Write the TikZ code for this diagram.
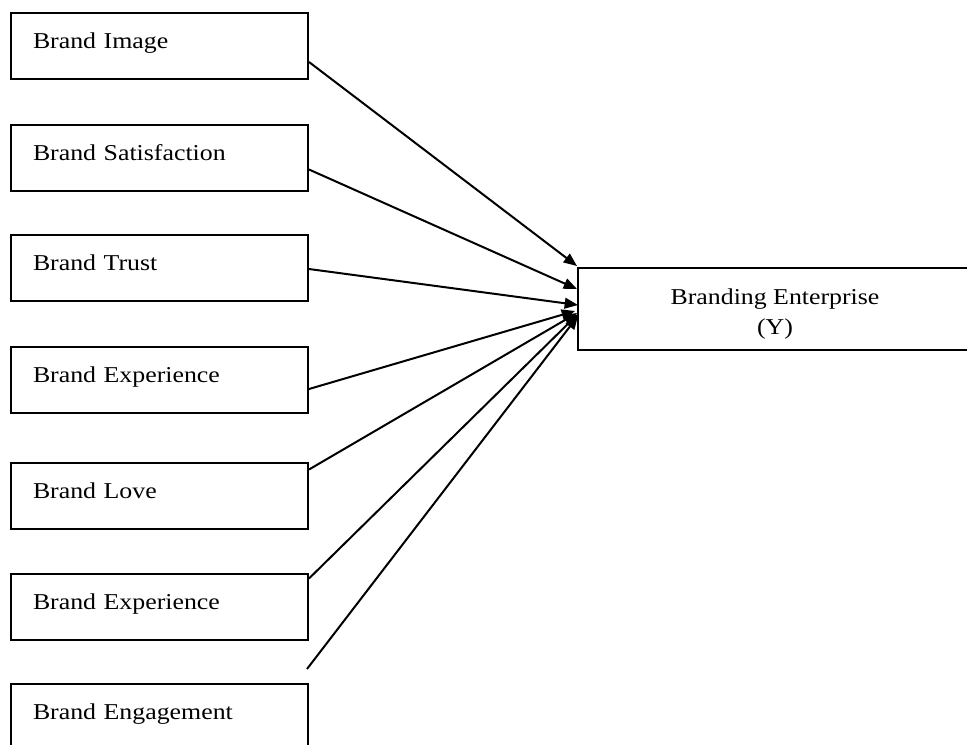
\documentclass[tikz,border=0pt]{standalone}
\usepackage{fontspec}
\setmainfont{Liberation Serif}[FakeStretch=1.14]
\usetikzlibrary{arrows.meta}
\begin{document}
\begin{tikzpicture}[x=0.75pt,y=-0.75pt,
  lbox/.style={draw, line width=1.5pt, anchor=north west,
    minimum width=222.75pt, text width=189.75pt, align=left,
    inner xsep=16.5pt, inner ysep=10.25pt, text height=16pt, text depth=13pt,
    font=\fontsize{17}{20}\selectfont},
  ybox/.style={draw, line width=1.5pt, anchor=north west,
    minimum width=295.5pt, minimum height=61.5pt, align=center, inner sep=0pt,
    font=\fontsize{17}{22.5}\selectfont},
  conn/.style={line width=1.5pt, -{Triangle[length=10pt,width=8pt]}}]
\clip (0,0) rectangle (967,744);
\node[lbox] (b1) at (10,12)  {Brand Image};
\node[lbox] (b2) at (10,124) {Brand Satisfaction};
\node[lbox] (b3) at (10,234) {Brand Trust};
\node[lbox] (b4) at (10,346) {Brand Experience};
\node[lbox] (b5) at (10,462) {Brand Love};
\node[lbox] (b6) at (10,573) {Brand Experience};
\node[lbox] (b7) at (10,683) {Brand Engagement};
\node[ybox] (y) at (577,267) {\rule{0pt}{19pt}Branding Enterprise\\(Y)};
\coordinate (s7) at (307,669);
\draw[conn] ([shift={(0,16)}]b1.east)   -- ([shift={(0,-1)}]y.north west);
\draw[conn] ([shift={(0,11.5)}]b2.east) -- ([shift={(0,22)}]y.north west);
\draw[conn] ([shift={(0,1)}]b3.east)    -- ([shift={(1,38)}]y.north west);
\draw[conn] ([shift={(0,9)}]b4.east)    -- ([shift={(-2,44)}]y.north west);
\draw[conn] ([shift={(0,-26.5)}]b5.east) -- ([shift={(0,46)}]y.north west);
\draw[conn] ([shift={(0,-28.5)}]b6.east) -- ([shift={(1,47)}]y.north west);
\draw[conn] (s7) -- ([shift={(1,49)}]y.north west);
\end{tikzpicture}
\end{document}
